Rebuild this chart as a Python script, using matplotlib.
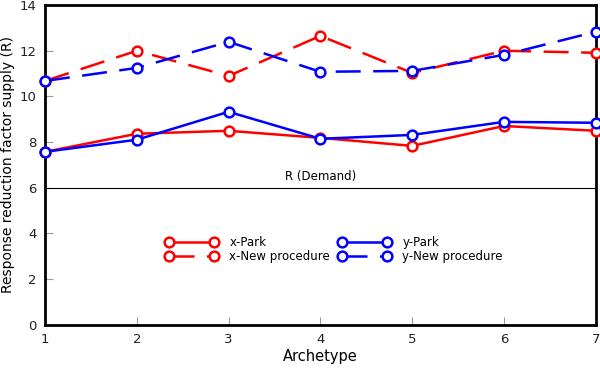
import numpy as np
import matplotlib
matplotlib.use('Agg')
import matplotlib.pyplot as plt

archetype = [1, 2, 3, 4, 5, 6, 7]
x_park = [7.57, 8.36, 8.49, 8.18, 7.83, 8.70, 8.49]
y_park = [7.57, 8.10, 9.32, 8.14, 8.31, 8.88, 8.84]
x_new = [10.67, 11.99, 10.89, 12.64, 11.02, 11.99, 11.90]
y_new = [10.67, 11.24, 12.38, 11.07, 11.11, 11.81, 12.82]
demand = 6

fig = plt.figure(figsize=(6, 3.68), dpi=100)
ax = fig.add_axes([0.075, 0.117, 0.918, 0.87])

mk = dict(marker='o', markersize=7, markerfacecolor='white', markeredgewidth=1.8, linewidth=1.8, clip_on=False, zorder=3)
ax.plot(archetype, x_park, color='red', label='x-Park', **mk)
ax.plot(archetype, x_new, color='red', dashes=(10, 5), label='x-New procedure', **mk)
ax.plot(archetype, y_park, color='blue', label='y-Park', **mk)
ax.plot(archetype, y_new, color='blue', dashes=(10, 5), label='y-New procedure', **mk)

ax.axhline(demand, color='black', linewidth=0.8)
ax.text(4, demand + 0.2, 'R (Demand)', ha='center', va='bottom', fontsize=8.5)

ax.set_xlim(1, 7)
ax.set_ylim(0, 14)
ax.set_yticks(range(0, 15, 2))
ax.set_xlabel('Archetype', fontsize=10.5, labelpad=2)
ax.set_ylabel('Response reduction factor supply (R)', fontsize=10, labelpad=3)
ax.tick_params(direction='in', length=6, labelsize=9.5, color='#999999', labelcolor='#222222', pad=6)
for s in ax.spines.values():
    s.set_linewidth(2)

ax.legend(ncol=2, frameon=False, loc='center', bbox_to_anchor=(0.525, 0.235),
          fontsize=8.5, numpoints=2, handlelength=4.4, columnspacing=0.7,
          labelspacing=0.1, handletextpad=1.0)

fig.savefig('out.png', dpi=100)
